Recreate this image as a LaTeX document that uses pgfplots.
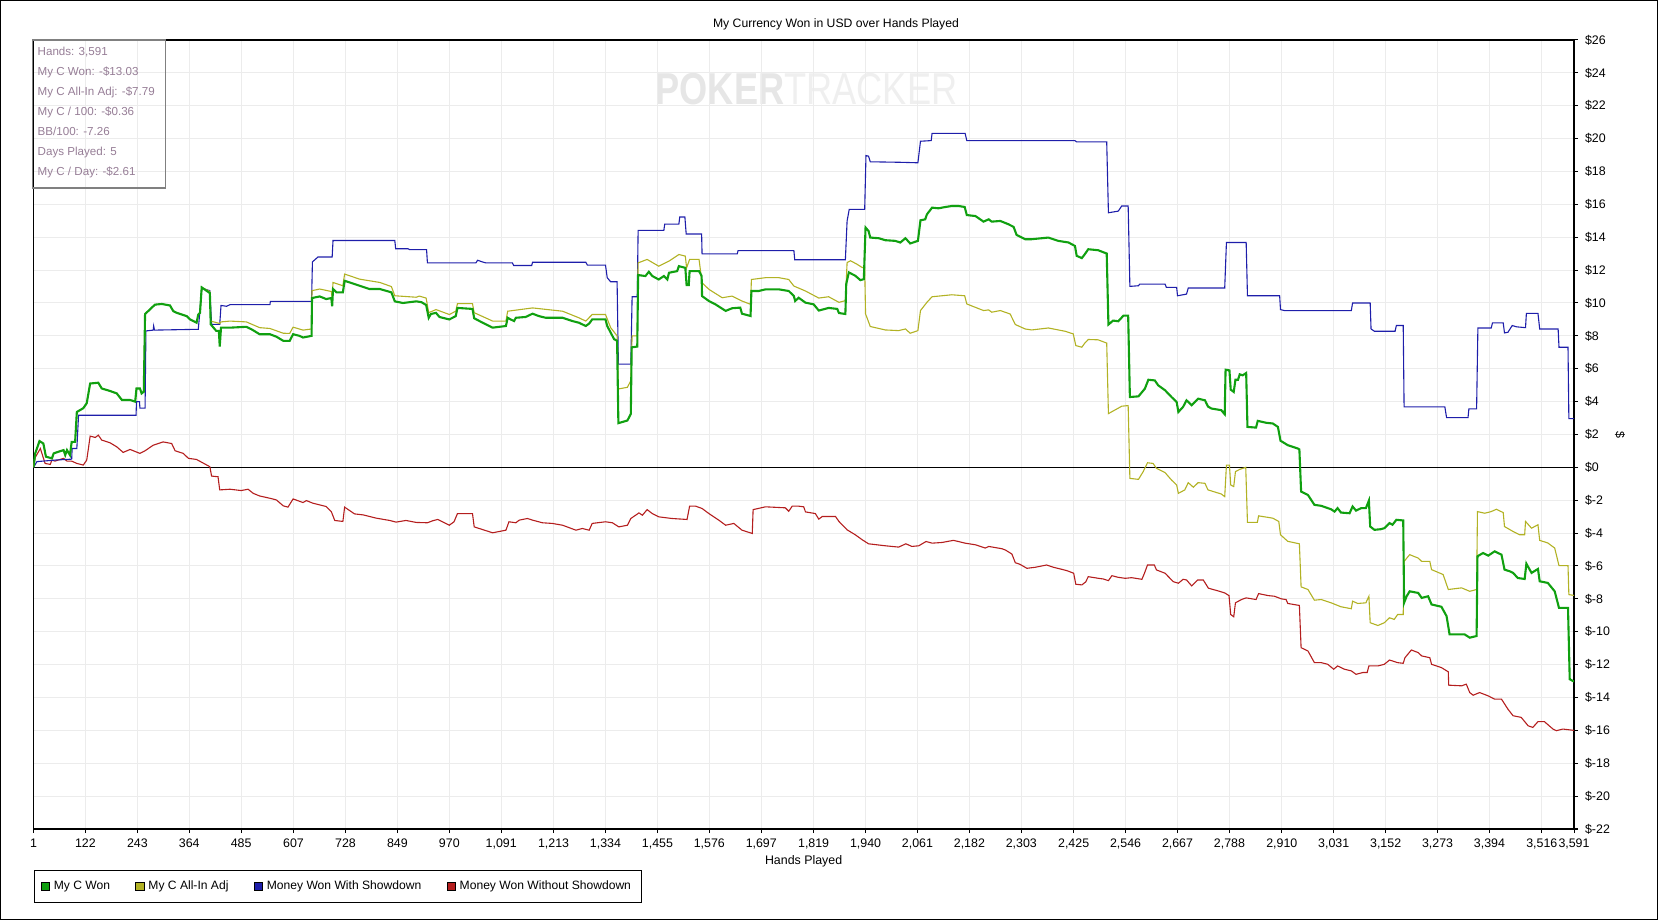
\documentclass[border=0pt]{standalone}
\usepackage{fontspec}
\setmainfont{Liberation Sans}
\usepackage{pgfplots}
\usepackage{pgfplotstable}
\pgfplotsset{compat=1.18}
\definecolor{gcol}{RGB}{16,160,16}
\definecolor{ycol}{RGB}{178,178,36}
\definecolor{bcol}{RGB}{30,30,170}
\definecolor{rcol}{RGB}{180,30,30}
\definecolor{gridc}{RGB}{236,236,236}
\definecolor{infotext}{RGB}{150,125,150}
\definecolor{infobox}{RGB}{128,128,128}

\pgfplotstableread{
h v
1 0
5 0.85
15 1.6
24 1.45
30 0.65
44 0.55
48 0.85
59 0.95
71 1.05
75 0.75
79 1.05
86 0.75
90 1.55
98 1.55
102 3.37
117 3.6
125 3.9
133 5.1
152 5.15
160 4.8
179 4.65
195 4.5
207 4.1
226 4.1
238 4.0
241 4.8
249 4.8
253 4.5
258 4.6
261 9.33
272 9.6
284 9.9
300 9.94
319 9.85
327 9.5
335 9.4
358 9.2
366 9.0
381 8.8
385 9.3
389 9.4
393 10.95
412 10.6
414 8.7
427 8.3
433 8.3
435 7.35
438 8.5
459 8.5
497 8.55
509 8.4
528 8.1
552 8.1
567 7.95
583 7.7
598 7.7
606 8.1
621 8.0
629 7.9
649 8.0
650 10.3
668 10.4
683 10.24
695 10.3
697 9.8
699 10.85
707 10.65
722 10.65
726 11.35
738 11.25
761 11.05
784 10.85
808 10.85
835 10.65
843 10.1
862 10.0
893 10.1
905 10.05
916 9.88
922 9.1
927 9.33
939 9.4
947 9.15
970 9.0
985 9.2
989 9.7
1024 9.64
1028 9.07
1047 8.81
1071 8.5
1102 8.6
1106 9.1
1113 9.0
1121 8.9
1125 9.1
1148 9.15
1164 9.35
1179 9.2
1195 9.1
1234 9.1
1257 8.9
1272 8.8
1288 8.6
1296 8.75
1303 9.0
1334 9.0
1338 8.6
1346 8.2
1354 7.8
1361 7.7
1364 2.69
1385 2.85
1393 3.25
1395 7.3
1408 7.35
1410 11.7
1427 11.64
1435 11.9
1443 11.64
1458 11.43
1470 11.64
1478 11.43
1482 11.84
1501 11.94
1505 12.24
1520 12.14
1523 11.09
1528 11.09
1530 11.94
1552 11.94
1558 11.64
1559 10.42
1575 10.12
1590 9.92
1614 9.52
1629 9.68
1648 9.72
1652 9.35
1672 9.21
1674 10.73
1691 10.73
1707 10.83
1738 10.83
1761 10.73
1773 10.42
1776 10.12
1784 10.32
1800 10.02
1819 9.92
1831 9.54
1854 9.7
1874 9.64
1878 9.39
1893 9.33
1895 11.15
1901 11.86
1916 11.66
1928 11.39
1936 11.45
1940 14.59
1947 14.38
1951 13.98
1971 13.94
1986 13.82
2009 13.78
2021 13.68
2033 13.94
2044 13.62
2062 13.78
2068 15.03
2079 15.09
2083 15.39
2095 15.8
2110 15.76
2126 15.84
2141 15.9
2157 15.9
2171 15.84
2176 15.35
2196 15.29
2215 14.95
2227 15.09
2234 14.95
2254 14.99
2273 14.79
2285 14.63
2292 14.14
2312 13.88
2327 13.88
2366 13.98
2389 13.78
2413 13.68
2428 13.47
2432 12.87
2444 12.73
2451 12.97
2459 13.27
2482 13.21
2502 13.01
2506 8.69
2517 8.93
2529 8.89
2541 9.23
2552 9.23
2556 4.28
2576 4.32
2591 4.79
2599 5.33
2614 5.29
2622 4.99
2638 4.69
2653 4.28
2665 3.98
2669 3.37
2680 3.68
2688 4.08
2700 3.78
2715 4.18
2731 4.08
2738 3.7
2746 3.58
2769 3.48
2777 3.23
2779 5.94
2788 5.9
2791 4.73
2798 4.59
2802 5.33
2808 5.33
2812 5.66
2819 5.6
2827 5.74
2830 2.46
2850 2.42
2854 2.83
2874 2.71
2889 2.67
2901 2.46
2907 1.62
2924 1.35
2947 1.15
2951 1.09
2955 -1.47
2971 -1.68
2986 -2.28
3002 -2.34
3025 -2.55
3033 -2.69
3040 -2.48
3048 -2.75
3068 -2.79
3075 -2.38
3083 -2.63
3095 -2.48
3106 -2.48
3113 -2.02
3116 -3.6
3126 -3.8
3141 -3.76
3149 -3.7
3161 -3.39
3168 -3.49
3177 -3.19
3193 -3.23
3195 -8.24
3201 -7.84
3208 -7.54
3228 -7.64
3236 -7.94
3251 -7.84
3259 -8.34
3282 -8.48
3294 -9.05
3301 -10.16
3321 -10.16
3336 -10.16
3348 -10.36
3364 -10.26
3366 -5.41
3379 -5.21
3391 -5.37
3406 -5.11
3422 -5.31
3429 -6.22
3441 -6.32
3449 -6.42
3460 -6.73
3476 -6.79
3480 -5.86
3492 -6.42
3507 -6.18
3511 -6.93
3530 -7.03
3546 -7.54
3556 -8.55
3577 -8.55
3581 -12.89
3591 -13.03
}\greentab

\pgfplotstableread{
h v
1 0
5 0.85
15 1.6
24 1.45
30 0.65
44 0.55
48 0.85
59 0.95
71 1.05
75 0.75
79 1.05
86 0.75
90 1.55
98 1.55
102 3.37
117 3.6
125 3.9
133 5.1
152 5.15
160 4.8
179 4.65
195 4.5
207 4.1
226 4.1
238 4.0
241 4.8
249 4.8
253 4.5
258 4.6
261 9.33
272 9.6
284 9.9
300 9.94
319 9.85
327 9.5
335 9.4
358 9.2
366 9.0
381 8.8
385 9.3
389 9.4
393 10.95
412 10.7
414 8.9
435 8.75
438 8.85
459 8.9
497 8.85
528 8.5
552 8.45
583 8.16
598 8.15
606 8.53
629 8.35
649 8.42
650 10.75
668 10.85
695 10.7
697 10.3
699 11.25
722 11.05
726 11.76
761 11.45
808 11.25
835 11.0
843 10.44
893 10.35
900 10.42
916 10.3
922 9.41
939 9.6
970 9.3
985 9.5
989 9.96
1024 9.96
1028 9.41
1071 8.9
1102 8.9
1106 9.5
1164 9.7
1234 9.5
1272 9.1
1288 8.9
1303 9.3
1334 9.3
1346 8.5
1361 8.0
1364 4.77
1385 4.87
1393 5.27
1396 8.0
1408 8.0
1410 12.44
1431 12.65
1458 12.24
1482 12.55
1505 12.95
1520 12.85
1523 12.14
1530 12.65
1552 12.65
1559 11.23
1575 10.83
1606 10.32
1629 10.42
1652 10.12
1672 9.92
1674 11.43
1707 11.54
1738 11.54
1761 11.43
1773 11.03
1800 10.73
1831 10.3
1854 10.38
1878 10.04
1893 10.14
1897 12.46
1905 12.57
1920 12.36
1932 12.16
1938 12.16
1940 9.33
1943 9.13
1951 8.57
1986 8.36
2017 8.32
2033 8.42
2044 8.16
2062 8.32
2068 9.54
2083 10.04
2095 10.38
2141 10.5
2171 10.44
2176 9.94
2215 9.54
2227 9.58
2234 9.44
2254 9.54
2277 9.33
2289 8.69
2312 8.42
2327 8.36
2366 8.48
2405 8.28
2424 8.12
2430 7.41
2444 7.31
2451 7.56
2459 7.78
2482 7.76
2502 7.56
2506 3.27
2517 3.43
2537 3.72
2552 3.76
2556 -0.67
2576 -0.73
2587 -0.26
2597 0.28
2610 0.24
2618 -0.06
2638 -0.32
2653 -0.77
2665 -1.07
2669 -1.58
2684 -1.37
2692 -0.93
2704 -1.21
2715 -0.93
2731 -0.97
2738 -1.37
2769 -1.62
2777 -1.78
2781 0.14
2788 0.14
2791 -1.07
2798 -1.17
2802 -0.26
2812 -0.12
2826 0
2830 -3.35
2853 -3.35
2856 -2.95
2889 -3.09
2903 -3.29
2907 -4.1
2924 -4.5
2951 -4.65
2955 -7.27
2971 -7.43
2986 -8.08
3002 -8.04
3025 -8.24
3048 -8.48
3072 -8.6
3075 -8.14
3087 -8.28
3106 -8.24
3113 -7.84
3116 -9.45
3134 -9.62
3149 -9.45
3161 -9.15
3172 -9.25
3180 -8.95
3193 -8.95
3195 -5.72
3208 -5.31
3228 -5.52
3236 -5.72
3255 -5.72
3259 -6.22
3286 -6.52
3298 -7.43
3329 -7.33
3348 -7.54
3364 -7.43
3366 -2.69
3383 -2.79
3398 -2.69
3410 -2.55
3426 -2.75
3429 -3.6
3449 -3.9
3464 -4.1
3476 -4.1
3478 -3.29
3492 -3.7
3507 -3.49
3511 -4.44
3530 -4.6
3546 -4.91
3556 -5.98
3577 -5.98
3579 -7.74
3591 -7.79
}\yellowtab

\pgfplotstableread{
h v
1 0
9 0.35
55 0.45
90 0.5
91 1.15
102 1.15
106 3.17
240 3.17
241 4.0
248 4.0
249 3.6
261 3.6
263 8.3
280 8.35
281 8.6
283 8.35
385 8.4
389 9.55
393 10.9
412 10.75
416 8.7
435 8.7
438 9.85
451 9.8
459 9.9
552 9.9
553 10.1
649 10.1
651 12.5
664 12.8
697 12.8
699 13.8
843 13.8
845 13.3
874 13.3
877 13.25
917 13.25
919 12.44
1032 12.44
1036 12.6
1047 12.5
1055 12.44
1117 12.44
1120 12.28
1162 12.28
1164 12.48
1288 12.48
1292 12.3
1334 12.3
1338 11.54
1346 11.29
1361 11.29
1364 6.28
1393 6.28
1396 10.38
1408 10.38
1410 14.42
1470 14.42
1472 14.8
1505 14.8
1507 15.23
1519 15.23
1522 14.2
1558 14.2
1559 12.99
1641 12.99
1643 13.19
1773 13.19
1775 12.63
1893 12.63
1897 14.99
1902 15.7
1938 15.7
1941 18.97
1947 18.93
1951 18.59
2021 18.56
2062 18.53
2068 19.84
2093 19.88
2095 20.32
2172 20.32
2176 19.88
2428 19.88
2432 19.8
2502 19.8
2506 15.49
2529 15.59
2537 15.9
2552 15.9
2556 11.01
2576 11.05
2579 11.15
2638 11.15
2641 10.95
2665 10.95
2667 10.44
2688 10.54
2692 10.91
2777 10.91
2781 13.68
2827 13.68
2830 10.44
2905 10.44
2907 9.6
2916 9.54
3072 9.54
3075 10.0
3116 10.0
3118 8.42
3126 8.28
3174 8.28
3177 8.63
3193 8.63
3195 3.68
3290 3.68
3294 3.03
3344 3.03
3346 3.56
3364 3.56
3367 8.48
3398 8.48
3401 8.79
3426 8.79
3429 8.18
3437 8.22
3447 8.63
3457 8.55
3478 8.5
3480 9.37
3507 9.37
3511 8.42
3554 8.42
3556 7.31
3577 7.31
3579 2.97
3591 2.97
}\bluetab

\pgfplotstableread{
h v
1 0
5 0.6
17 1.15
28 0.24
40 0.18
44 0.44
51 0.38
71 0.55
79 0.38
90 0.38
102 0.24
117 0.14
125 0.44
129 1.15
133 1.9
145 1.82
152 1.96
160 1.66
179 1.5
195 1.25
210 0.91
226 1.09
249 0.85
261 1.01
280 1.35
303 1.55
323 1.45
331 1.01
350 0.85
362 0.55
381 0.48
412 0.04
416 -0.53
431 -0.57
435 -1.37
459 -1.33
485 -1.41
501 -1.33
513 -1.58
528 -1.74
552 -1.88
567 -1.98
583 -2.34
594 -2.42
606 -1.92
629 -2.14
637 -2.02
652 -2.18
683 -2.38
695 -2.69
703 -3.23
722 -3.29
726 -2.42
738 -2.63
749 -2.83
769 -2.89
800 -3.09
831 -3.23
846 -3.33
869 -3.23
893 -3.35
919 -3.37
931 -3.25
943 -3.17
954 -3.31
970 -3.52
981 -3.31
989 -2.81
1024 -2.81
1028 -3.62
1047 -3.78
1071 -3.98
1102 -3.82
1109 -3.31
1125 -3.37
1133 -3.21
1152 -3.11
1164 -3.21
1187 -3.37
1210 -3.41
1234 -3.52
1265 -3.82
1280 -3.72
1296 -3.82
1303 -3.41
1334 -3.31
1350 -3.37
1365 -3.62
1385 -3.52
1393 -3.11
1412 -2.77
1420 -2.91
1431 -2.57
1443 -2.81
1458 -3.01
1489 -3.11
1524 -3.17
1530 -2.36
1544 -2.36
1559 -2.5
1575 -2.81
1598 -3.21
1614 -3.52
1633 -3.41
1652 -3.82
1676 -4.02
1678 -2.57
1707 -2.4
1753 -2.46
1761 -2.67
1769 -2.36
1784 -2.36
1796 -2.4
1800 -2.71
1823 -2.81
1831 -3.15
1839 -2.99
1870 -2.99
1878 -3.29
1897 -3.8
1916 -4.1
1932 -4.4
1947 -4.65
1986 -4.77
2017 -4.85
2034 -4.65
2048 -4.81
2064 -4.77
2081 -4.51
2095 -4.61
2118 -4.57
2145 -4.44
2172 -4.61
2196 -4.71
2219 -4.91
2227 -4.81
2258 -4.95
2266 -5.03
2281 -5.27
2289 -5.8
2300 -5.9
2316 -6.14
2335 -6.08
2362 -5.94
2378 -6.08
2397 -6.2
2409 -6.28
2425 -6.44
2430 -7.11
2444 -7.15
2453 -6.97
2459 -6.65
2483 -6.75
2494 -6.79
2506 -6.89
2514 -6.59
2529 -6.69
2545 -6.75
2560 -6.71
2584 -6.81
2590 -6.44
2597 -5.94
2613 -5.94
2618 -6.24
2638 -6.44
2657 -6.95
2669 -7.05
2680 -6.81
2688 -6.85
2700 -7.21
2714 -6.85
2727 -6.85
2739 -7.35
2765 -7.54
2777 -7.64
2787 -7.8
2791 -8.95
2798 -9.09
2802 -8.24
2816 -8.04
2827 -7.94
2850 -8.04
2856 -7.68
2878 -7.8
2893 -7.84
2909 -8.0
2920 -8.04
2924 -8.28
2951 -8.4
2955 -10.97
2971 -11.17
2986 -11.88
3002 -11.88
3017 -11.98
3031 -12.28
3040 -12.08
3056 -12.28
3072 -12.38
3083 -12.59
3099 -12.48
3109 -12.48
3113 -12.08
3134 -12.08
3149 -11.98
3161 -11.72
3180 -11.88
3193 -11.92
3197 -11.58
3212 -11.11
3228 -11.27
3236 -11.47
3255 -11.58
3259 -11.98
3282 -12.18
3298 -12.44
3299 -13.25
3329 -13.29
3340 -13.19
3348 -13.7
3356 -13.86
3371 -13.7
3391 -13.9
3406 -14.1
3422 -14.1
3437 -14.71
3449 -15.11
3468 -15.21
3484 -15.72
3495 -15.82
3507 -15.47
3522 -15.47
3542 -15.92
3550 -16.02
3565 -15.92
3591 -16.0
}\redtab

\begin{document}
\begin{tikzpicture}[x=1pt,y=1pt]
% outer frame
\draw[black, line width=0.5pt] (0.25,0.25) rectangle (828.75,459.75);
% watermark
\node[font=\fontsize{22.35}{23}\selectfont, inner sep=0] at (403.25,415.5)
  {\scalebox{0.81}[1]{\textcolor[RGB]{230,230,230}{\bfseries POKER}\textcolor[RGB]{239,239,239}{TRACKER}}};
\begin{axis}[
  at={(16.75pt,45.5pt)}, anchor=south west,
  scale only axis, width=770.25pt, height=394.5pt,
  xmin=1, xmax=3591, ymin=-22, ymax=26,
  axis line style={black, line width=0.6pt},
  xtick={1,122,243,364,485,607,728,849,970,1091,1213,1334,1455,1576,1697,1819,1940,2061,2182,2303,2425,2546,2667,2788,2910,3031,3152,3273,3394,3516,3591},
  xticklabels={1,122,243,364,485,607,728,849,970,{1,091},{1,213},{1,334},{1,455},{1,576},{1,697},{1,819},{1,940},{2,061},{2,182},{2,303},{2,425},{2,546},{2,667},{2,788},{2,910},{3,031},{3,152},{3,273},{3,394},{3,516},{3,591}},
  ytick={-22,-20,...,26},
  yticklabels={\$-22,\$-20,\$-18,\$-16,\$-14,\$-12,\$-10,\$-8,\$-6,\$-4,\$-2,\$0,\$2,\$4,\$6,\$8,\$10,\$12,\$14,\$16,\$18,\$20,\$22,\$24,\$26},
  xtick pos=bottom, ytick pos=right, yticklabel pos=right,
  tick align=outside, major tick length=2pt,
  tick style={black, line width=0.5pt},
  grid=major, grid style={color=gridc, line width=0.5pt},
  ticklabel style={font=\fontsize{6.2}{7}\selectfont},
  xticklabel style={yshift=0.5pt},
  yticklabel style={anchor=west},
  legend columns=4,
  legend style={at={(0,0)}, anchor=north west, yshift=-20.5pt, xshift=0.3pt,
    draw=black, line width=0.5pt, font=\fontsize{6.05}{7}\selectfont,
    inner xsep=3pt, inner ysep=3pt,
    /tikz/every odd column/.append style={column sep=0pt},
    /tikz/every even column/.append style={column sep=10.6pt}},
  legend cell align=left,
]
\addlegendimage{legend image code/.code={\filldraw[fill=gcol,draw=black,line width=0.4pt] (0pt,-2.1pt) rectangle (4.2pt,2.1pt);}}
\addlegendentry{My C Won}
\addlegendimage{legend image code/.code={\filldraw[fill=ycol,draw=black,line width=0.4pt] (0pt,-2.1pt) rectangle (4.2pt,2.1pt);}}
\addlegendentry{My C All-In Adj}
\addlegendimage{legend image code/.code={\filldraw[fill=bcol,draw=black,line width=0.4pt] (0pt,-2.1pt) rectangle (4.2pt,2.1pt);}}
\addlegendentry{Money Won With Showdown}
\addlegendimage{legend image code/.code={\filldraw[fill=rcol,draw=black,line width=0.4pt] (0pt,-2.1pt) rectangle (4.2pt,2.1pt);}}
\addlegendentry{Money Won Without Showdown}
\addplot[black, line width=0.6pt, forget plot] coordinates {(1,0) (3591,0)};
\addplot[rcol, line width=0.55pt, forget plot] table[x=h,y=v] {\redtab};
\addplot[bcol, line width=0.55pt, forget plot] table[x=h,y=v] {\bluetab};
\addplot[ycol, line width=0.55pt, forget plot] table[x=h,y=v] {\yellowtab};
\addplot[gcol, line width=1.05pt, forget plot] table[x=h,y=v] {\greentab};
\end{axis}
% info box
\draw[infobox, line width=0.6pt] (16.1,440) rectangle (82.6,366);
\begin{scope}[every node/.style={anchor=base west, inner sep=0, font=\fontsize{5.8}{6}\selectfont, text=infotext}]
\node at (18.65,432) {Hands: 3,591};
\node at (18.65,422) {My C Won: -\$13.03};
\node at (18.65,412) {My C All-In Adj: -\$7.79};
\node at (18.65,402) {My C / 100: -\$0.36};
\node at (18.65,392) {BB/100: -7.26};
\node at (18.65,382) {Days Played: 5};
\node at (18.65,372) {My C / Day: -\$2.61};
\end{scope}
% title and labels
\node[font=\fontsize{6.1}{7}\selectfont] at (418,448) {My Currency Won in USD over Hands Played};
\node[font=\fontsize{6.2}{7}\selectfont] at (401.8,29.2) {Hands Played};
\node[font=\fontsize{6.2}{7}\selectfont, rotate=-90] at (810,242.5) {\$};
\pgfresetboundingbox
\path[use as bounding box] (0,0) rectangle (829,460);
\end{tikzpicture}
\end{document}
